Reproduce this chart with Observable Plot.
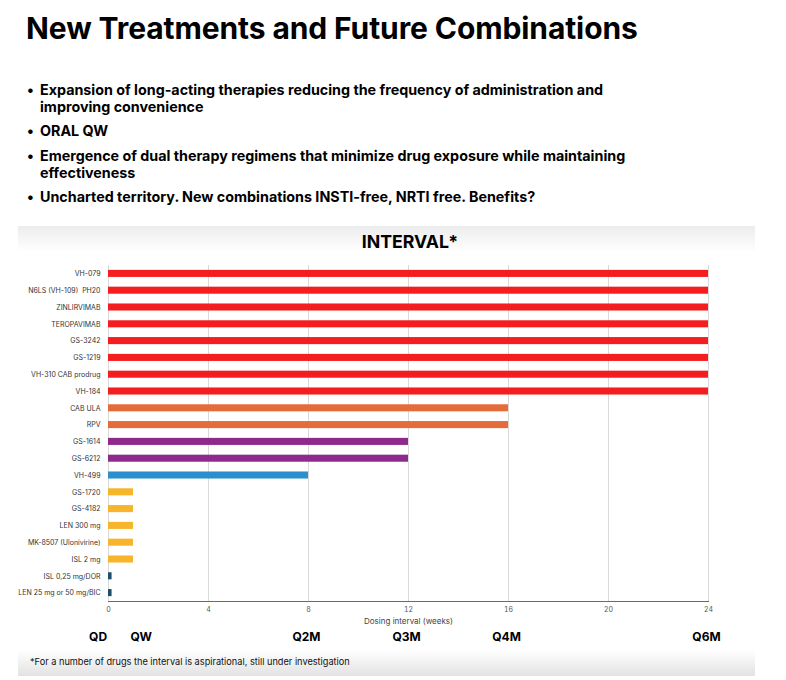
<!DOCTYPE html>
<html><head><meta charset="utf-8">
<script src="https://cdn.jsdelivr.net/npm/d3@7"></script>
<script src="https://cdn.jsdelivr.net/npm/@observablehq/plot@0.6"></script>
<style>
body{margin:0;background:#fff;font-family:Inter,"Liberation Sans",sans-serif;width:786px;height:680px;position:relative;overflow:hidden;color:#000}
#title{position:absolute;left:26px;top:10px;font-size:30px;font-weight:700;letter-spacing:-0.1px;white-space:nowrap}
.b{position:absolute;left:27px;font-size:14.3px;font-weight:700;line-height:17px;width:620px}
.b span{position:absolute;left:0}
.b div{margin-left:13px}
#panel{position:absolute;left:18px;top:226px;width:737px;height:451px;background:linear-gradient(#ececec 0px,#fff 26px,#fff 100%)}
#ctitle{position:absolute;left:310px;width:200px;text-align:center;top:231px;font-size:17.7px;font-weight:700}
#chart{position:absolute;left:20px;top:255px}
#foot{position:absolute;left:18px;top:650px;width:737px;height:26px;background:linear-gradient(#fff,#e2e2e2)}
#foot div{position:absolute;left:12px;top:6px;font-size:9.2px;color:#111}
</style></head>
<body>
<div id="title">New Treatments and Future Combinations</div>
<div class="b" style="top:81px"><span>•</span><div>Expansion of long-acting therapies reducing the frequency of administration and improving convenience</div></div>
<div class="b" style="top:122px"><span>•</span><div>ORAL QW</div></div>
<div class="b" style="top:147px"><span>•</span><div>Emergence of dual therapy regimens that minimize drug exposure while maintaining effectiveness</div></div>
<div class="b" style="top:188px"><span>•</span><div>Uncharted territory. New combinations INSTI-free, NRTI free. Benefits?</div></div>
<div id="panel"></div>
<div id="ctitle">INTERVAL*</div>
<div id="chart"></div>
<div id="foot"><div>*For a number of drugs the interval is aspirational, still under investigation</div></div>
<script>
const drugs = ["VH-079","N6LS (VH-109)  PH20","ZINLIRVIMAB","TEROPAVIMAB","GS-3242","GS-1219","VH-310 CAB prodrug","VH-184","CAB ULA","RPV","GS-1614","GS-6212","VH-499","GS-1720","GS-4182","LEN 300 mg","MK-8507 (Ulonivirine)","ISL 2 mg","ISL 0,25 mg/DOR","LEN 25 mg or 50 mg/BIC"];
const weeks = [24,24,24,24,24,24,24,24,16,16,12,12,8,1,1,1,1,1,1/7,1/7];
const groups = ["g6","g6","g6","g6","g6","g6","g6","g6","g4","g4","g3","g3","g2","g1","g1","g1","g1","g1","g0","g0"];
const groupNames = ["g6","g4","g3","g2","g1","g0"];
const groupColors = ["#f41d1f","#e46c3a","#8e2a8c","#2a90cc","#f7b52c","#1d4e6b"];
const xTicks = [0,4,8,12,16,20,24];
const periods = ["QW","Q2M","Q3M","Q4M","Q6M"];
const periodWeeks = [1,8,12,16,24];
const dailyLabel = "QD", dailyWeeks = 1/7;

const data = drugs.map((d,i)=>({drug:d, weeks:weeks[i], group:groups[i]}));
const per = periods.map((p,i)=>({label:p, weeks:periodWeeks[i]}));

const chart = Plot.plot({
  width:735, height:394,
  marginLeft:88, marginRight:47, marginTop:10, marginBottom:48,
  style:{fontFamily:"Inter, 'Liberation Sans', sans-serif", background:"transparent", overflow:"visible"},
  x:{domain:[0,24], ticks:xTicks, label:null},
  y:{domain:drugs, paddingInner:0.58, paddingOuter:0.29, round:false, label:null},
  color:{domain:groupNames, range:groupColors},
  marks:[
    Plot.gridX(xTicks,{stroke:"#d9d9d9", strokeOpacity:1, strokeWidth:1}),
    Plot.barX(data,{x:"weeks", y:"drug", fill:"group"}),
    Plot.frame({anchor:"bottom", stroke:"#4f7d4f", strokeWidth:1.2}),
    Plot.axisY({tickSize:0, tickPadding:8, fontSize:7, fill:"#333", label:null}),
    Plot.axisX({ticks:xTicks, tickSize:0, tickPadding:6, fontSize:7, fill:"#555", label:null}),
    Plot.text(["Dosing interval (weeks)"],{x:12, frameAnchor:"bottom", dy:22, fontSize:8, fill:"#444"}),
    Plot.text(per.slice(0,1),{x:"weeks", text:"label", frameAnchor:"bottom", dy:39, textAnchor:"start", dx:-3, fontSize:12, fontWeight:"bold", fill:"#000"}),
    Plot.text(per.slice(1),{x:"weeks", text:"label", frameAnchor:"bottom", dy:39, dx:-2, fontSize:12, fontWeight:"bold", fill:"#000"}),
    Plot.text([dailyLabel],{x:dailyWeeks, frameAnchor:"bottom", dy:39, textAnchor:"end", dx:-5, fontSize:12, fontWeight:"bold", fill:"#000"})
  ]
});
document.getElementById("chart").appendChild(chart);
</script>
</body></html>
